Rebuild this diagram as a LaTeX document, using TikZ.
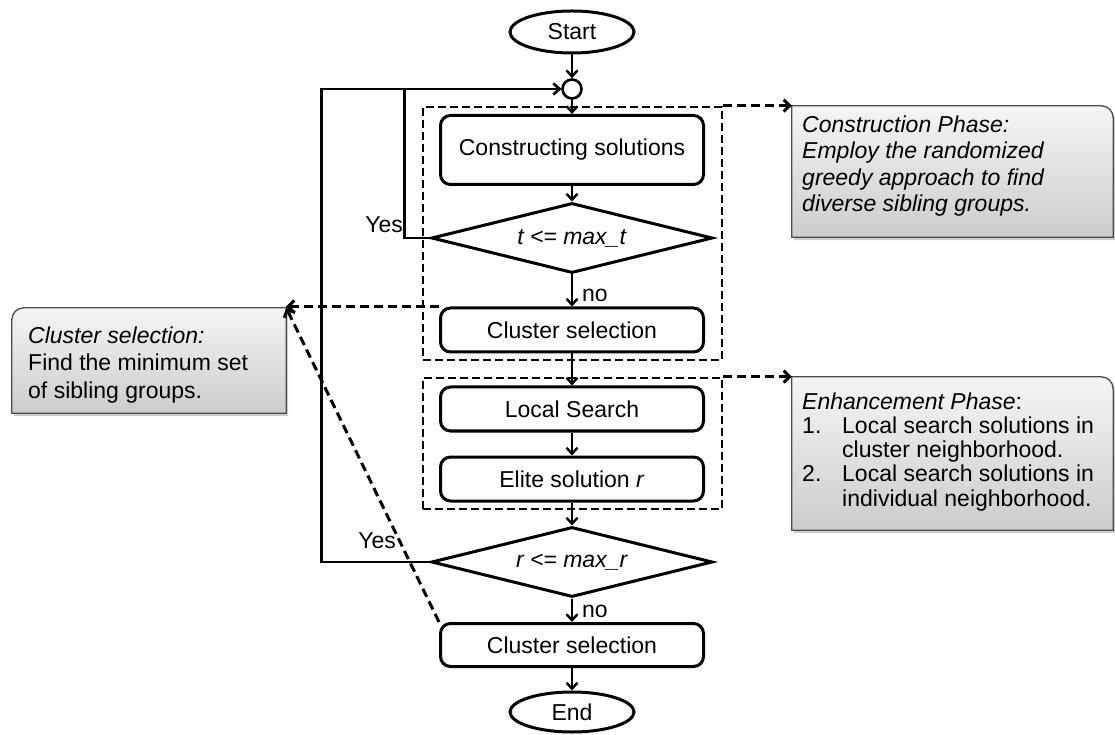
\documentclass[tikz,border=0pt]{standalone}
\usepackage{fontspec}
\setmainfont{Liberation Sans}
\usetikzlibrary{shapes.geometric,arrows.meta,shadows,backgrounds}

\begin{document}
\begin{tikzpicture}[x=1pt,y=1pt,
    font=\fontsize{23}{26.5}\selectfont,
    box/.style={rectangle, rounded corners=10pt, draw, line width=3pt, minimum width=263pt, minimum height=44pt, inner sep=0pt},
    term/.style={ellipse, draw, line width=3pt, minimum width=124pt, minimum height=42pt, inner sep=0pt},
    decision/.style={diamond, draw, line width=3pt, minimum width=281pt, minimum height=70pt, inner sep=0pt, aspect=4},
    junction/.style={circle, draw, line width=2.6pt, minimum size=19pt, inner sep=0pt},
    phase/.style={rectangle, draw, dash pattern=on 8pt off 4pt, line width=2.8pt, minimum width=299pt, inner sep=0pt},
    flow/.style={line width=2.4pt, -{Straight Barb[length=6pt,width=11pt]}},
    link/.style={line width=3pt, dash pattern=on 9pt off 5pt, -{Straight Barb[length=6pt,width=12pt]}},
    notearea/.style={rectangle, inner sep=0pt},
    notebox/.style={draw=black!70, line width=1.3pt, top color=black!4, bottom color=black!20,
      drop shadow={shadow xshift=2pt, shadow yshift=-3pt, opacity=0.4}},
    note/.style={anchor=north west, align=left, inner sep=0pt},
    lbl/.style={inner sep=0pt}
    ]
    \useasboundingbox (0,0) rectangle (1115,734);

    % main flow
    \node[term] (start) at (572,702) {Start};
    \node[junction] (junc) at (572,645) {};
    \node[box, minimum height=69pt] (cons) at (572,584) {Constructing solutions};
    \node[decision] (dec1) at (572,496) {\textit{t <= max\_t}};
    \node[box] (clus1) at (572,404) {Cluster selection};
    \node[box] (loc) at (572,325) {Local Search};
    \node[box] (elite) at (572,255) {Elite solution \textit{r}};
    \node[decision] (dec2) at (572,172) {\textit{r <= max\_r}};
    \node[box, minimum height=43pt] (clus2) at (572,89) {Cluster selection};
    \node[term, minimum height=40pt] (stop) at (572,22) {End};

    % phases
    \node[phase, minimum height=253pt] (ph1) at (572.5,500.5) {};
    \node[phase, minimum height=131pt] (ph2) at (572.5,290.5) {};

    \draw[flow] (start) -- (junc);
    \draw[flow] (junc) -- (cons);
    \draw[flow] (cons) -- (dec1);
    \draw[flow] (dec1) -- (clus1);
    \draw[flow] (clus1) -- (loc);
    \draw[flow] (loc) -- (elite);
    \draw[flow] (elite) -- (dec2);
    \draw[flow] (dec2) -- (clus2);
    \draw[flow] (clus2) -- (stop);
    \draw[flow] (dec1.west) -- ++(-25.5,0) |- (junc.west);
    \draw[flow] (dec2.west) -- ++(-108.5,0) |- (junc.west);

    \node[lbl, anchor=base east] (yes1) at (403,501) {Yes};
    \node[lbl, anchor=base east] (yes2) at (396,186) {Yes};
    \node[lbl, anchor=base west] (no1) at (582,432) {no};
    \node[lbl, anchor=base west] (no2) at (582,117) {no};

    % notes
    \node[notearea, minimum width=321pt, minimum height=131pt] (cp) at (952.5,562.5) {};
    \node[notearea, minimum width=321pt, minimum height=153pt] (ep) at (952.5,280.5) {};
    \node[notearea, minimum width=274pt, minimum height=105pt] (cs) at (149,373.5) {};
    \begin{scope}[on background layer]
      \path[notebox] (cp.south west) -- (cp.north west) -- ([xshift=-12pt]cp.north east)
        arc[start angle=90, end angle=0, radius=12pt] -- (cp.south east) -- cycle;
      \path[notebox] (ep.south west) -- (ep.north west) -- ([xshift=-12pt]ep.north east)
        arc[start angle=90, end angle=0, radius=12pt] -- (ep.south east) -- cycle;
      \path[notebox] (cs.south east) -- (cs.north east) -- ([xshift=12pt]cs.north west)
        arc[start angle=90, end angle=180, radius=12pt] -- (cs.south west) -- cycle;
    \end{scope}
    \node[note] (cptext) at (802,618.5) {\itshape Construction Phase:\\
      \itshape Employ the randomized\\
      \itshape greedy approach to find\\
      \itshape diverse sibling groups.};
    \node[note, font=\fontsize{23}{24.2}\selectfont] (eptext) at (802,341.5) {\textit{Enhancement Phase}:\\
      \makebox[40pt][l]{1.}Local search solutions in\\
      \hspace*{40pt}cluster neighborhood.\\
      \makebox[40pt][l]{2.}Local search solutions in\\
      \hspace*{40pt}individual neighborhood.};
    \node[note, font=\fontsize{23}{27.5}\selectfont] (cstext) at (28,407.5) {\textit{Cluster selection:}\\
      Find the minimum set\\
      of sibling groups.};

    \draw[link] (ph1.north east) -- (ph1.north east -| cp.west);
    \draw[link] (ph2.north east) -- (ph2.north east -| ep.west);
    \draw[link] (clus1.north west) -- (clus1.north west -| cs.east);
    \draw[link] (clus2.north west) -- (cs.north east);
  \end{tikzpicture}
\end{document}
